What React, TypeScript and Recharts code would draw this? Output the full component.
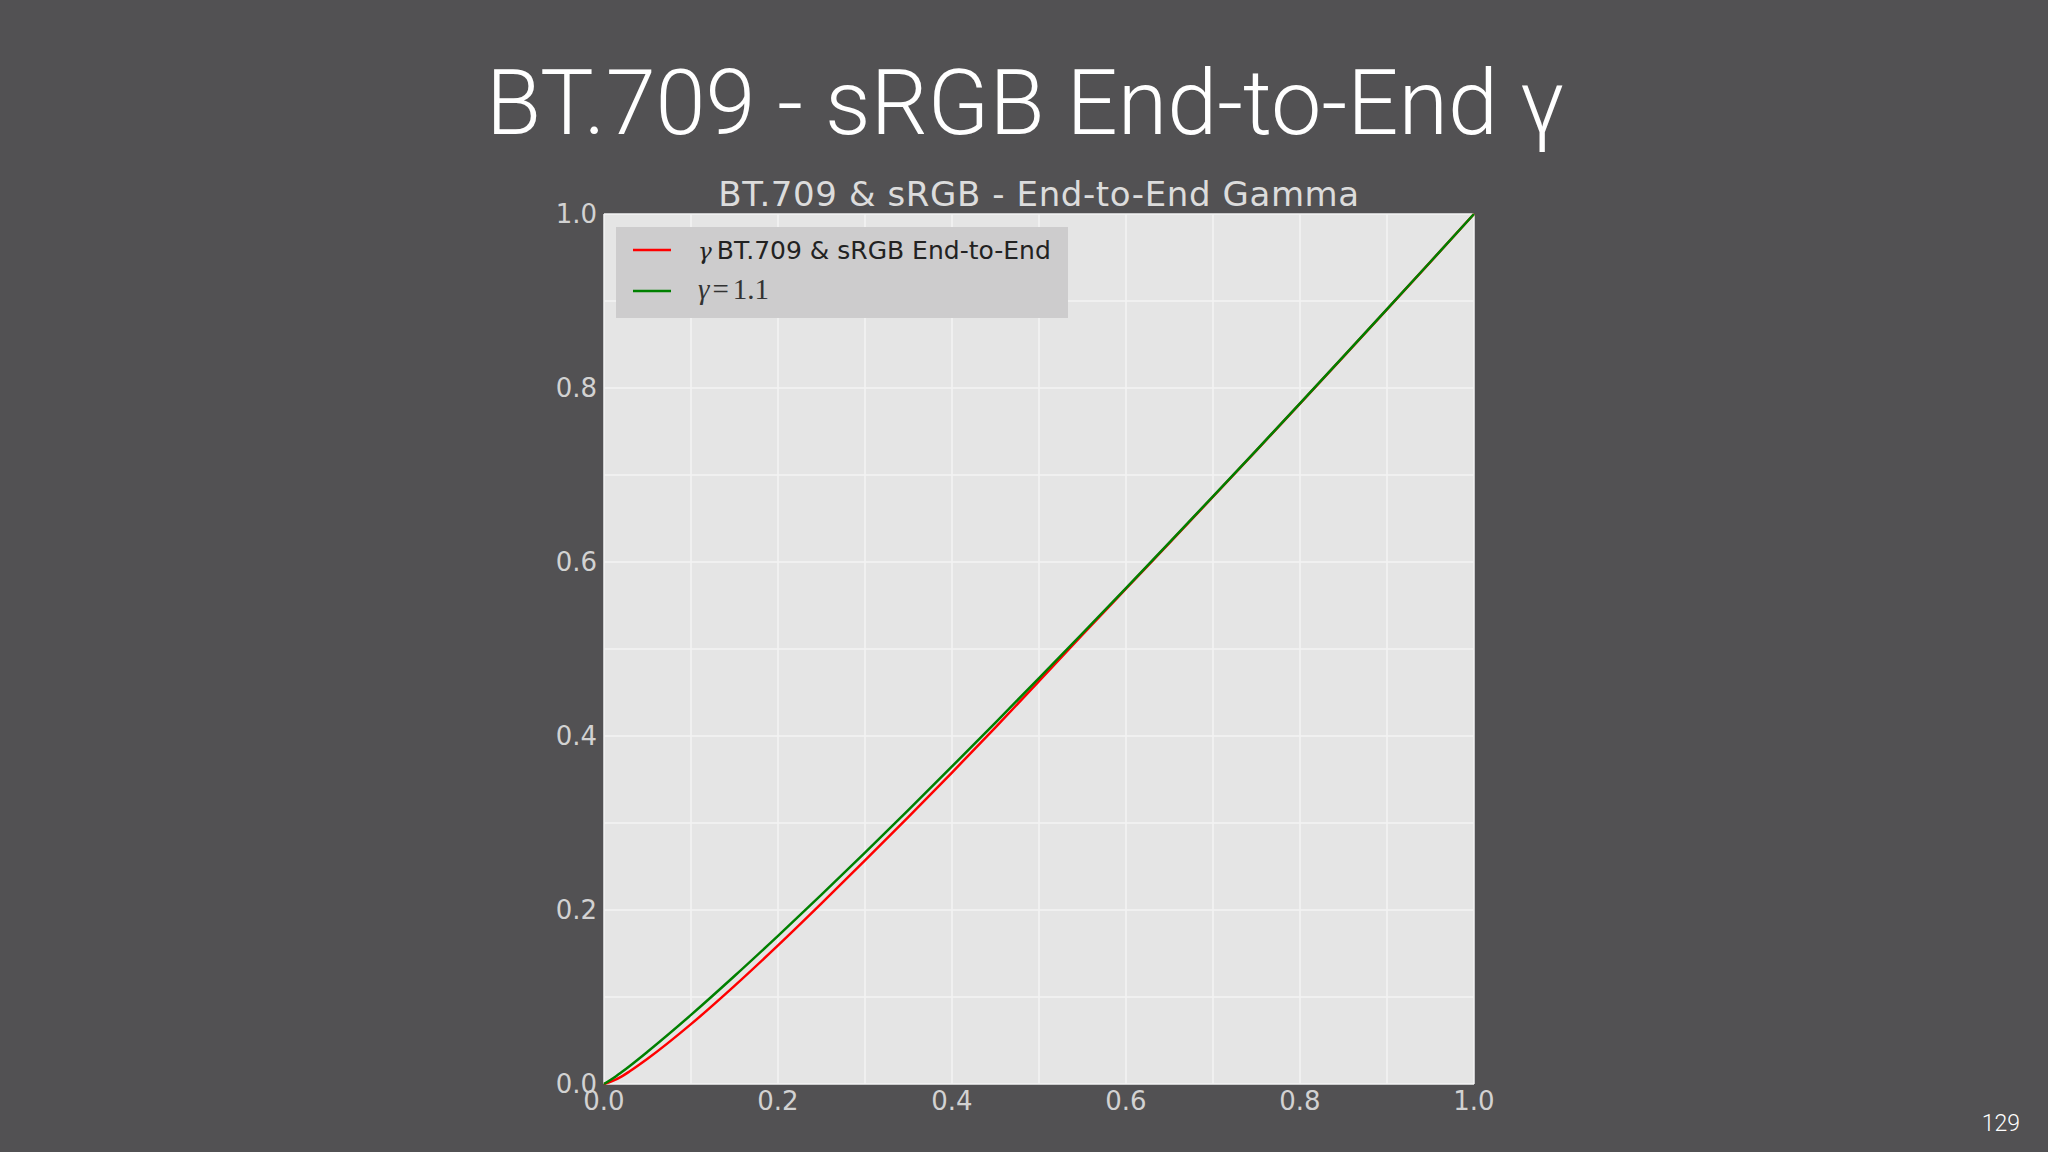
import React from "react";
import { LineChart, Line, XAxis, YAxis, CartesianGrid, Legend } from "recharts";

const xValues = [0, 0.01, 0.02, 0.03, 0.05, 0.1, 0.15, 0.2, 0.25, 0.3, 0.35, 0.4, 0.45, 0.5, 0.55, 0.6, 0.65, 0.7, 0.75, 0.8, 0.85, 0.9, 0.95, 1.0];
const endToEnd = [0, 0.0035, 0.0085, 0.0149, 0.029, 0.0688, 0.1128, 0.1593, 0.2076, 0.257, 0.3071, 0.358, 0.41, 0.463, 0.5165, 0.5693, 0.622, 0.675, 0.7283, 0.782, 0.836, 0.8904, 0.945, 1.0];
const gamma11 = [0, 0.0063, 0.0135, 0.0211, 0.0371, 0.0794, 0.1241, 0.1703, 0.2176, 0.266, 0.3151, 0.365, 0.4155, 0.4665, 0.5181, 0.5701, 0.6226, 0.6755, 0.7287, 0.7823, 0.8363, 0.8906, 0.9451, 1.0];

const tickValues = [0, 0.2, 0.4, 0.6, 0.8, 1.0];
const gridValues = [0, 0.1, 0.2, 0.3, 0.4, 0.5, 0.6, 0.7, 0.8, 0.9, 1.0];

const pageTitle = "BT.709 - sRGB End-to-End γ";
const chartTitle = "BT.709 & sRGB - End-to-End Gamma";
const pageNumber = "129";

const data = xValues.map((x, i) => ({ x, e2e: endToEnd[i], g11: gamma11[i] }));

const W = 2048;
const H = 1152;
const BG = "#525153";
const TICK = "#d2d2d2";

const LegendBox = () => (
  <svg width={452} height={91} style={{ display: "block", overflow: "visible" }}>
    <rect x={0} y={0} width={452} height={91} fill="#cdcccd" />
    <line x1={17} x2={55} y1={23} y2={23} stroke="#ff0000" strokeWidth={2.5} />
    <line x1={17} x2={55} y1={64} y2={64} stroke="#008000" strokeWidth={2.5} />
    <text x={82} y={32} fontSize={25} fill="#222">
      <tspan fontFamily="'DejaVu Serif', serif" fontStyle="italic" fontSize={23}>γ</tspan>
      <tspan fontFamily="'DejaVu Sans', sans-serif" dx={5}>BT.709 &amp; sRGB End-to-End</tspan>
    </text>
    <text x={82} y={72} fontSize={29} fill="#333" fontFamily="'Liberation Serif', serif">
      <tspan fontStyle="italic">γ</tspan>
      <tspan dx={3}>=</tspan>
      <tspan dx={4}>1.1</tspan>
    </text>
  </svg>
);

export default function App() {
  return (
    <div style={{ position: "fixed", left: 0, top: 0, width: W, height: H, background: BG, overflow: "hidden" }}>
      <svg width={W} height={H} style={{ position: "absolute", left: 0, top: 0 }}>
        <text x={1025} y={134} textAnchor="middle" fontFamily="Roboto, sans-serif" fontWeight={300} fontSize={90} fill="#ffffff">
          {pageTitle}
        </text>
        <text x={1039} y={206} textAnchor="middle" fontFamily="'DejaVu Sans', sans-serif" fontSize={34} letterSpacing={0.6} fill="#dcdcdc">
          {chartTitle}
        </text>
        <text x={2020} y={1131} textAnchor="end" fontFamily="Roboto, sans-serif" fontWeight={300} fontSize={23} fill="#ffffff">
          {pageNumber}
        </text>
      </svg>
      <div style={{ position: "absolute", left: 0, top: 0 }}>
        <LineChart width={W} height={H} data={data} margin={{ top: 214, right: 574, bottom: 28, left: 524 }}>
          <CartesianGrid
            fill="#e5e5e5"
            stroke="#f3f3f3"
            strokeWidth={1.5}
            horizontalValues={gridValues}
            verticalValues={gridValues}
          />
          <XAxis
            dataKey="x"
            type="number"
            domain={[0, 1]}
            ticks={tickValues}
            tickFormatter={(v: number) => v.toFixed(1)}
            axisLine={false}
            tickLine={false}
            tickSize={0}
            tickMargin={8}
            height={40}
            interval={0}
            tick={{ fill: TICK, fontSize: 26, fontFamily: "'DejaVu Sans', sans-serif" }}
          />
          <YAxis
            type="number"
            domain={[0, 1]}
            ticks={tickValues}
            tickFormatter={(v: number) => v.toFixed(1)}
            axisLine={false}
            tickLine={false}
            tickSize={0}
            tickMargin={7}
            width={80}
            interval={0}
            tick={{ fill: TICK, fontSize: 26, fontFamily: "'DejaVu Sans', sans-serif" }}
          />
          <Legend
            content={() => <LegendBox />}
            wrapperStyle={{ position: "absolute", left: 616, top: 227, width: 0, height: 0, overflow: "visible" }}
          />
          <Line dataKey="e2e" name="γ BT.709 & sRGB End-to-End" type="monotone" stroke="#ff0000" strokeWidth={2.5} dot={false} isAnimationActive={false} />
          <Line dataKey="g11" name="γ=1.1" type="monotone" stroke="#008000" strokeWidth={2.5} dot={false} isAnimationActive={false} />
        </LineChart>
      </div>
    </div>
  );
}
